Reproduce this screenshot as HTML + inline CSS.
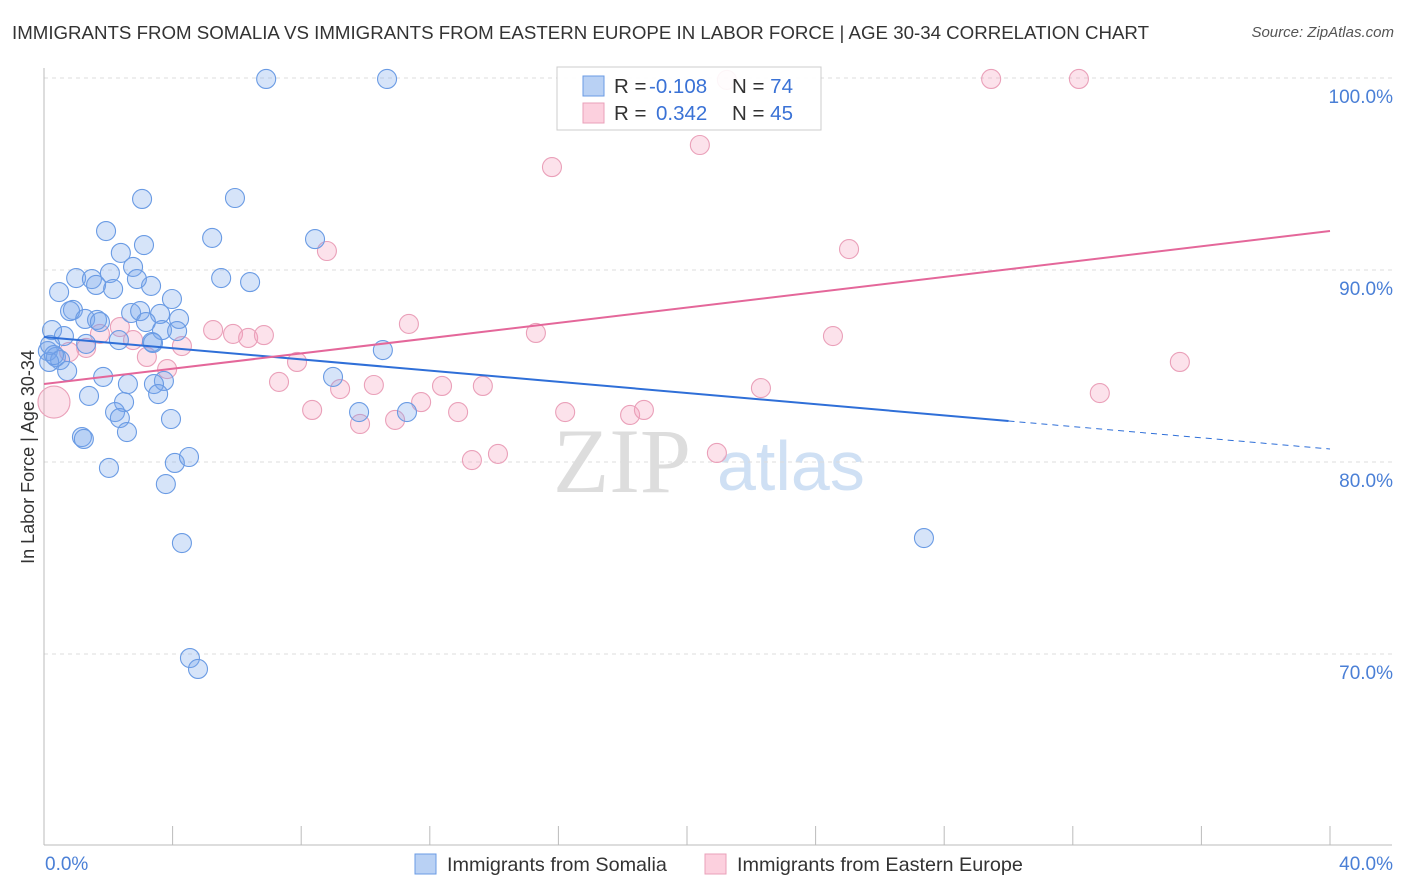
<!DOCTYPE html>
<html><head><meta charset="utf-8"><style>
body{margin:0;background:#fff;font-family:"Liberation Sans",sans-serif;}
#wrap{position:relative;width:1406px;height:892px;overflow:hidden;}
.t{position:absolute;white-space:nowrap;}
</style></head><body>
<div id="wrap">
<div class="t" style="left:12px;top:22px;font-size:18.7px;color:#333;">IMMIGRANTS FROM SOMALIA VS IMMIGRANTS FROM EASTERN EUROPE IN LABOR FORCE | AGE 30-34 CORRELATION CHART</div>
<div class="t" style="right:12px;top:24px;font-size:15px;color:#555;font-style:italic;">Source: ZipAtlas.com</div>
<svg id="svg" width="1406" height="892" style="position:absolute;left:0;top:0"></svg>
</div>
<script>
const somaliaX=[6.91,10.67,3.05,5.94,1.93,3.11,5.23,8.43,2.39,2.77,1.00,1.49,2.05,0.47,1.62,2.15,3.33,2.89,5.51,6.41,3.98,0.90,0.81,1.28,1.65,1.74,2.71,2.99,3.61,3.17,4.20,0.25,0.62,3.67,4.14,2.33,3.36,1.31,3.39,0.12,0.37,0.50,0.16,0.72,10.54,1.84,2.61,3.73,3.42,3.55,1.40,2.49,2.21,2.36,2.58,3.95,8.99,9.80,11.29,1.18,1.24,2.02,4.07,4.51,3.79,4.29,27.37,4.54,4.79,0.19,0.31];
const somaliaY=[99.95,99.95,93.70,93.75,92.03,91.30,91.67,91.61,90.89,90.16,89.58,89.53,89.84,88.85,89.22,89.01,89.17,89.53,89.58,89.37,88.49,87.92,87.86,87.45,87.40,87.29,87.76,87.86,87.71,87.29,87.45,86.87,86.56,86.87,86.82,86.35,86.25,86.15,86.20,85.78,85.47,85.31,85.21,84.74,85.83,84.43,84.06,84.22,84.06,83.54,83.44,83.12,82.60,82.29,81.56,82.24,84.43,82.60,82.60,81.30,81.20,79.69,79.95,80.26,78.85,75.78,76.04,69.79,69.22,86.10,85.57];
const easternX=[21.24,29.46,32.19,20.40,15.80,25.04,8.80,5.26,5.88,6.35,6.84,2.36,1.74,2.77,4.29,1.31,0.78,3.20,3.83,7.87,11.35,15.30,24.54,35.33,7.31,9.21,10.26,12.38,13.65,11.73,8.34,9.83,10.92,12.88,16.21,18.23,18.66,13.31,14.12,20.93,22.30,32.84,0.31];
const easternY=[99.90,99.95,99.95,96.51,95.36,91.09,90.99,86.87,86.67,86.46,86.61,87.03,86.67,86.35,86.04,85.94,85.73,85.47,84.84,85.21,87.19,86.72,86.56,85.21,84.17,83.80,84.01,83.96,83.96,83.12,82.71,81.98,82.19,82.60,82.60,82.45,82.71,80.10,80.42,80.47,83.85,83.59,83.12];
const easternSize=[9.5,9.5,9.5,9.5,9.5,9.5,9.5,9.5,9.5,9.5,9.5,9.5,9.5,9.5,9.5,9.5,9.5,9.5,9.5,9.5,9.5,9.5,9.5,9.5,9.5,9.5,9.5,9.5,9.5,9.5,9.5,9.5,9.5,9.5,9.5,9.5,9.5,9.5,9.5,9.5,9.5,9.5,16];
const somaliaTrend=[86.51,-0.1458];   // intercept, slope per %
const easternTrend=[84.06,0.1993];
const yTicks=[100,90,80,70];
const yTickLabels=["100.0%","90.0%","80.0%","70.0%"];
const xTicks=[0,4,8,12,16,20,24,28,32,36,40];

const X=v=>44+v*(1286/40);
const Y=v=>78+(100-v)*19.2;
const svg=document.getElementById('svg');
const NS='http://www.w3.org/2000/svg';
function mk(tag,attrs){const e=document.createElementNS(NS,tag);for(const k in attrs)e.setAttribute(k,attrs[k]);svg.appendChild(e);return e;}

let w=mk('text',{x:553,y:492,'font-size':92,fill:'#ddd','font-family':'Liberation Serif, serif'});w.textContent='ZIP';


w=mk('text',{x:717,y:490,'font-size':70,fill:'#cfe0f4','font-family':'Liberation Sans, sans-serif'});w.textContent='atlas';



yTicks.forEach((t,i)=>{
 let g=mk('line',{x1:44,x2:1392,y1:Y(t),y2:Y(t),stroke:'#ddd','stroke-dasharray':'4,4'});
 
 
 let l=mk('text',{x:1393,y:Y(t)+25,'text-anchor':'end','font-size':19,fill:'#4a7fd6'});l.textContent=yTickLabels[i];
 
 
});
let ax=mk('line',{x1:44,x2:44,y1:68,y2:845,stroke:'#bbb'});


ax=mk('line',{x1:44,x2:1392,y1:845,y2:845,stroke:'#bbb'});


xTicks.forEach(t=>{
 let k=mk('line',{x1:X(t),x2:X(t),y1:826,y2:845,stroke:'#bbb'});
 
 
});
let xl=mk('text',{x:45,y:870,'font-size':19,fill:'#4a7fd6'});xl.textContent='0.0%';


xl=mk('text',{x:1393,y:870,'font-size':19,fill:'#4a7fd6','text-anchor':'end'});xl.textContent='40.0%';


let yt=mk('text',{x:34,y:457,'font-size':18,fill:'#333','text-anchor':'middle',transform:'rotate(-90 34 457)'});yt.textContent='In Labor Force | Age 30-34';



easternX.forEach((v,i)=>{
 let c=mk('circle',{cx:X(v),cy:Y(easternY[i]),r:easternSize[i],fill:'rgba(244,160,188,0.3)',stroke:'#eaa0b9','stroke-width':1.1});
 
 
});
somaliaX.forEach((v,i)=>{
 let c=mk('circle',{cx:X(v),cy:Y(somaliaY[i]),r:9.5,fill:'rgba(120,165,235,0.3)',stroke:'#6a9be4','stroke-width':1.1});
 
 
});
let tl=mk('line',{x1:X(0),y1:Y(somaliaTrend[0]),x2:X(30),y2:Y(somaliaTrend[0]+somaliaTrend[1]*30),stroke:'#2f6fd8','stroke-width':2});


tl=mk('line',{x1:X(30),y1:Y(somaliaTrend[0]+somaliaTrend[1]*30),x2:X(40),y2:Y(somaliaTrend[0]+somaliaTrend[1]*40),stroke:'#2f6fd8','stroke-width':1,'stroke-dasharray':'6,5'});


tl=mk('line',{x1:X(0),y1:Y(easternTrend[0]),x2:X(40),y2:Y(easternTrend[0]+easternTrend[1]*40),stroke:'#e4679a','stroke-width':2});



let lb=mk('rect',{x:557,y:67,width:264,height:63,fill:'rgba(255,255,255,0.9)',stroke:'#ccc'});


[[86,'#b9d1f4','#6a9be4','-0.108','74'],[113,'#fcd0de','#eaa0b9',' 0.342','45']].forEach((r,i)=>{
 let s=mk('rect',{x:583,y:r[0]-10,width:21,height:20,fill:r[1],stroke:r[2]});
 
 
 let t=mk('text',{x:614,y:r[0]+7,'font-size':20.5,fill:'#333'});
 t.innerHTML='R = <tspan fill="#3a72d6" x="'+(i?656:649)+'">'+(i?'0.342':'-0.108')+'</tspan><tspan x="732">N = </tspan><tspan fill="#3a72d6">'+r[4]+'</tspan>';
 
 
});
[[415,'#b9d1f4','#6a9be4','Immigrants from Somalia'],[705,'#fcd0de','#eaa0b9','Immigrants from Eastern Europe']].forEach(r=>{
 let s=mk('rect',{x:r[0],y:854,width:21,height:20,fill:r[1],stroke:r[2]});
 
 
 let t=mk('text',{x:r[0]+32,y:871,'font-size':19.8,fill:'#333'});t.textContent=r[3];
 
 
});
</script>
</body></html>
